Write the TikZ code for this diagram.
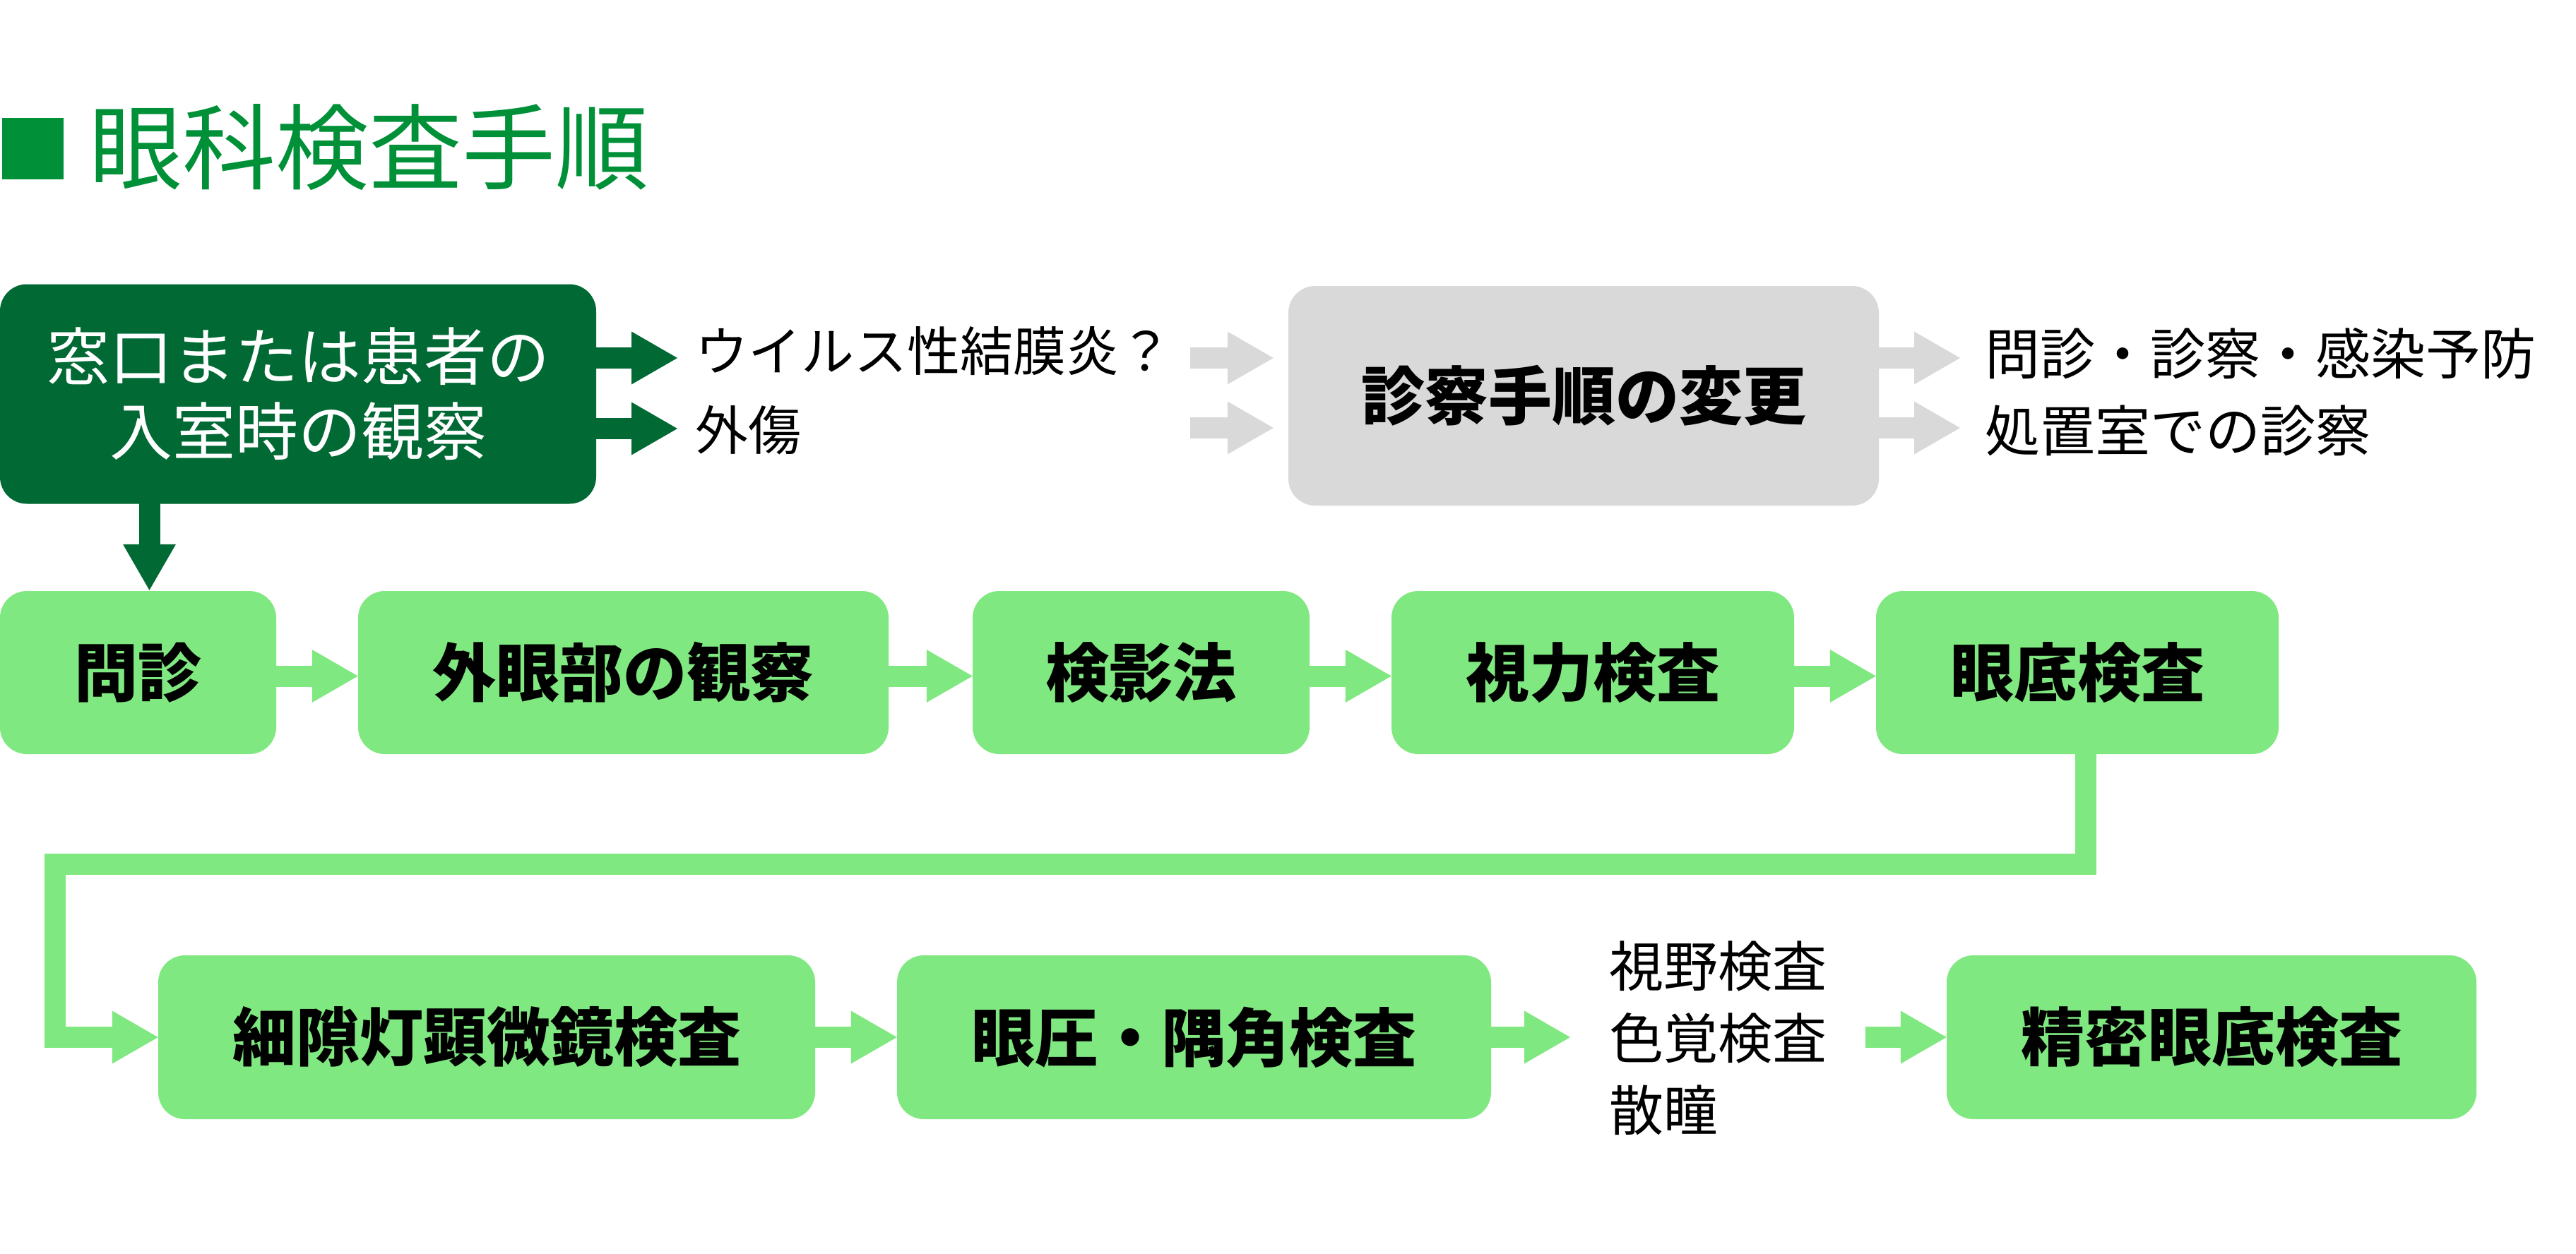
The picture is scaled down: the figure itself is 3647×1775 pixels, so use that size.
\documentclass[tikz,border=0pt]{standalone}
\usepackage{fontspec}
\setmainfont{Noto Sans CJK JP}
\usetikzlibrary{arrows.meta}
\definecolor{dkg}{RGB}{0,105,52}
\definecolor{lgr}{RGB}{128,232,128}
\definecolor{gry}{RGB}{217,217,217}
\definecolor{ttg}{RGB}{0,144,56}
\begin{document}
\begin{tikzpicture}[x=1pt,y=-1pt,
  box/.style={rectangle, rounded corners=38pt, inner sep=0pt, align=center,
    font=\bfseries\fontsize{90}{102}\selectfont},
  lbox/.style={box, fill=lgr, minimum height=231pt},
  lab/.style={inner sep=0pt, anchor=west, font=\fontsize{78}{90}\selectfont},
  fat/.style={line width=30pt, -{Triangle[length=65pt,width=75pt,line width=0pt]}},
]
\useasboundingbox (0,0) rectangle (3647,1775);
% title
\node[fill=ttg, minimum size=87pt, inner sep=0pt] (sq) at (46.5,210) {};
\node[anchor=west, inner sep=0pt, text=ttg, font=\fontsize{132}{140}\selectfont] (title) at (126,209) {眼科検査手順};
% top row
\node[box, fill=dkg, text=white, minimum width=844pt, minimum height=311pt,
  font=\fontsize{89}{106}\selectfont] (start) at (422,558) {窓口または患者の\\入室時の観察};
\node[lab, font=\fontsize{75}{90}\selectfont] (t1) at (984,497) {ウイルス性結膜炎？};
\node[lab, font=\fontsize{75}{90}\selectfont] (t2) at (984,609) {外傷};
\node[box, fill=gry, minimum width=836pt, minimum height=311pt] (grey) at (2242,560.5) {診察手順の変更};
\node[lab] (t3) at (2810,501) {問診・診察・感染予防};
\node[lab] (t4) at (2810,610) {処置室での診察};
\coordinate (a1) at (959,507);
\coordinate (a2) at (959,607);
\coordinate (g1) at (1685,507);
\coordinate (g2) at (1685,606);
\coordinate (h1) at (2775,507);
\coordinate (h2) at (2775,606);
\draw[fat, dkg] (start.east |- a1) -- (a1);
\draw[fat, dkg] (start.east |- a2) -- (a2);
\draw[fat, gry] (g1) -- ([xshift=-21pt]grey.west |- g1);
\draw[fat, gry] (g2) -- ([xshift=-21pt]grey.west |- g2);
\draw[fat, gry] (grey.east |- h1) -- (h1);
\draw[fat, gry] (grey.east |- h2) -- (h2);
% row 2
\node[lbox, minimum width=391pt] (r1) at (195.5,952.5) {問診};
\node[lbox, minimum width=751pt] (r2) at (882.5,952.5) {外眼部の観察};
\node[lbox, minimum width=477pt] (r3) at (1615.5,952.5) {検影法};
\node[lbox, minimum width=570pt] (r4) at (2255,952.5) {視力検査};
\node[lbox, minimum width=570pt] (r5) at (2941,952.5) {眼底検査};
\coordinate (d0) at (211.5,716);
\draw[fat, dkg] ([yshift=2.5pt]start.south -| d0) -- ([yshift=1pt]r1.north -| d0);
\draw[fat, lgr] ([yshift=-5pt]r1.east) -- ([yshift=-5pt]r2.west);
\draw[fat, lgr] ([yshift=-5pt]r2.east) -- ([yshift=-5pt]r3.west);
\draw[fat, lgr] ([yshift=-5pt]r3.east) -- ([yshift=-5pt]r4.west);
\draw[fat, lgr] ([yshift=-5pt]r4.east) -- ([yshift=-5pt]r5.west);
% row 3
\node[lbox, minimum width=930pt, minimum height=232pt] (r6) at (689,1469) {細隙灯顕微鏡検査};
\node[lbox, minimum width=841pt, minimum height=232pt] (r7) at (1690.5,1469) {眼圧・隅角検査};
\node[lbox, minimum width=750pt, minimum height=232pt] (r8) at (3131,1469) {精密眼底検査};
\node[lab, anchor=west, align=left, font=\fontsize{77}{102}\selectfont] (lst) at (2278,1470) {視野検査\\色覚検査\\散瞳};
\coordinate (e1) at (2953,1224);
\coordinate (e2) at (78,1224);
\draw[fat, lgr] ([xshift=12pt]r5.south) -- (e1) -- (e2) |- (r6.west);
\draw[fat, lgr] (r6.east) -- (r7.west);
\coordinate (k1) at (2223,1469);
\coordinate (k2) at (2641,1469);
\draw[fat, lgr] (r7.east) -- (k1);
\draw[fat, lgr] (k2) -- (r8.west);
\end{tikzpicture}
\end{document}
